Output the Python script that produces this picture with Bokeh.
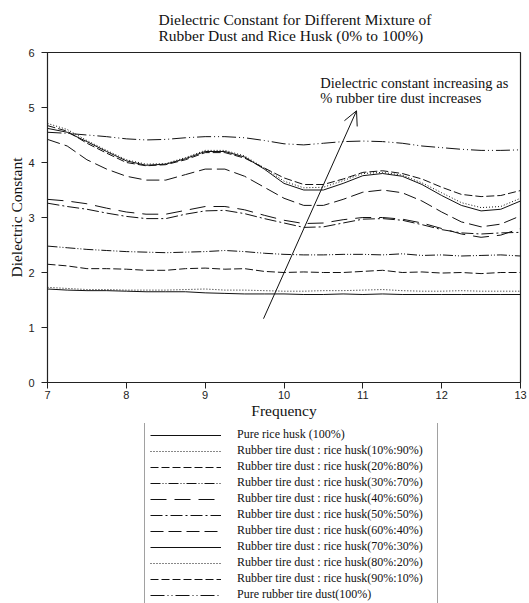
from bokeh.plotting import figure
from bokeh.layouts import column
from bokeh.models import Range1d, Legend, LegendItem, Label, Arrow, OpenHead
from bokeh.embed import file_html
from bokeh.resources import INLINE

freq = [7.0, 7.25, 7.5, 7.75, 8.0, 8.25, 8.5, 8.75, 9.0, 9.25, 9.5, 9.75, 10.0,
        10.25, 10.5, 10.75, 11.0, 11.25, 11.5, 11.75, 12.0, 12.25, 12.5, 12.75, 13.0]

rh_100 = [1.70, 1.68, 1.67, 1.67, 1.66, 1.65, 1.65, 1.65, 1.63, 1.62, 1.61, 1.61, 1.61,
          1.60, 1.60, 1.61, 1.60, 1.61, 1.60, 1.60, 1.60, 1.60, 1.60, 1.60, 1.60]
rt_10 = [1.73, 1.71, 1.69, 1.69, 1.68, 1.68, 1.68, 1.69, 1.70, 1.68, 1.68, 1.67, 1.66,
         1.66, 1.67, 1.67, 1.68, 1.69, 1.67, 1.66, 1.66, 1.67, 1.66, 1.66, 1.66]
rt_20 = [2.15, 2.12, 2.07, 2.07, 2.06, 2.04, 2.04, 2.07, 2.08, 2.06, 2.07, 2.02, 2.00,
         2.01, 2.00, 2.00, 2.02, 2.04, 2.00, 2.01, 1.99, 2.00, 1.98, 2.00, 2.00]
rt_30 = [2.48, 2.45, 2.42, 2.40, 2.38, 2.37, 2.36, 2.37, 2.38, 2.40, 2.38, 2.35, 2.33,
         2.32, 2.32, 2.33, 2.33, 2.32, 2.34, 2.31, 2.32, 2.30, 2.31, 2.32, 2.30]
rt_40 = [3.33, 3.30, 3.25, 3.17, 3.10, 3.06, 3.06, 3.13, 3.20, 3.20, 3.14, 3.04, 2.95,
         2.89, 2.90, 2.96, 3.00, 3.00, 2.97, 2.90, 2.80, 2.70, 2.64, 2.68, 2.80]
rt_50 = [3.26, 3.20, 3.15, 3.08, 3.02, 2.98, 2.98, 3.06, 3.12, 3.13, 3.07, 2.98, 2.90,
         2.82, 2.83, 2.90, 2.97, 2.98, 2.95, 2.87, 2.78, 2.72, 2.70, 2.72, 2.73]
rt_60 = [4.42, 4.30, 4.05, 3.88, 3.75, 3.68, 3.68, 3.78, 3.88, 3.88, 3.75, 3.55, 3.35,
         3.22, 3.22, 3.33, 3.46, 3.50, 3.45, 3.30, 3.10, 2.92, 2.83, 2.88, 3.03]
rt_70 = [4.62, 4.55, 4.38, 4.20, 4.03, 3.95, 3.97, 4.07, 4.20, 4.20, 4.10, 3.88, 3.62,
         3.50, 3.50, 3.62, 3.76, 3.80, 3.75, 3.60, 3.40, 3.22, 3.12, 3.15, 3.30]
rt_80 = [4.71, 4.60, 4.40, 4.22, 4.05, 3.97, 3.98, 4.09, 4.22, 4.22, 4.12, 3.90, 3.66,
         3.54, 3.55, 3.67, 3.80, 3.82, 3.77, 3.63, 3.45, 3.27, 3.18, 3.20, 3.35]
rt_90 = [4.67, 4.57, 4.35, 4.17, 4.00, 3.94, 3.96, 4.05, 4.18, 4.18, 4.08, 3.90, 3.72,
         3.60, 3.60, 3.70, 3.82, 3.85, 3.80, 3.70, 3.55, 3.42, 3.38, 3.40, 3.49]
rt_100 = [4.55, 4.53, 4.50, 4.47, 4.43, 4.41, 4.42, 4.45, 4.47, 4.47, 4.45, 4.40, 4.34,
          4.32, 4.35, 4.38, 4.39, 4.38, 4.35, 4.30, 4.27, 4.24, 4.22, 4.22, 4.23]

series_labels = [
    "Pure rice husk (100%)",
    "Rubber tire dust : rice husk(10%:90%)",
    "Rubber tire dust : rice husk(20%:80%)",
    "Rubber tire dust : rice husk(30%:70%)",
    "Rubber tire dust : rice husk(40%:60%)",
    "Rubber tire dust : rice husk(50%:50%)",
    "Rubber tire dust : rice husk(60%:40%)",
    "Rubber tire dust : rice husk(70%:30%)",
    "Rubber tire dust : rice husk(80%:20%)",
    "Rubber tire dust : rice husk(90%:10%)",
    "Pure rubber tire dust(100%)",
]
series_values = [rh_100, rt_10, rt_20, rt_30, rt_40, rt_50, rt_60, rt_70, rt_80, rt_90, rt_100]
dashes = ["solid", "1 2", "8 3", "10 2 1 2 1 2", "16 8", "12 3 2 3", "13 5",
          "solid", "1 2", "8 3", "14 3 1 3 1 3"]

title_text = "Dielectric Constant for Different Mixture of\nRubber Dust and Rice Husk (0% to 100%)"
note_line1 = "Dielectric constant increasing as"
note_line2 = "% rubber tire dust increases"

SERIF = "Liberation Serif"
SANS = "Liberation Sans"

# ---- main chart ----
p = figure(width=529, height=423, output_backend="svg", toolbar_location=None,
           x_range=Range1d(7, 13), y_range=Range1d(0, 6),
           min_border_left=47, min_border_right=9, min_border_top=52, min_border_bottom=41)
p.title.text = title_text
p.title.align = "left"
p.title.offset = 111
p.title.text_font = SERIF
p.title.text_font_size = "15.5px"
p.title.text_font_style = "normal"
p.title.text_color = "#111111"
p.title.text_line_height = 0.93
p.title.standoff = 17
p.grid.visible = False
p.outline_line_color = "#222222"
p.outline_line_width = 1.2
p.background_fill_color = "white"
p.border_fill_color = "white"

for ax in (p.xaxis[0], p.yaxis[0]):
    ax.axis_line_color = "#222222"
    ax.major_tick_line_color = "#222222"
    ax.minor_tick_line_color = None
    ax.major_tick_out = 6
    ax.major_tick_in = 0
    ax.major_label_text_font = SANS
    ax.major_label_text_font_size = "11px"
    ax.major_label_text_color = "#222222"
    ax.axis_label_text_font = SERIF
    ax.axis_label_text_font_size = "15.5px"
    ax.axis_label_text_font_style = "normal"
    ax.axis_label_text_color = "#111111"

p.xaxis.axis_label = "Frequency"
p.yaxis.axis_label = "Dielectric Constant"
p.xaxis.ticker = [7, 8, 9, 10, 11, 12, 13]
p.yaxis.ticker = [0, 1, 2, 3, 4, 5, 6]
p.xaxis.major_label_standoff = 2
p.xaxis.axis_label_standoff = 0
p.yaxis.major_label_standoff = 7
p.yaxis.axis_label_standoff = 0

for vals, dsh in zip(series_values, dashes):
    p.line(freq, vals, line_color="#111111", line_width=1, line_dash=dsh)

p.add_layout(Arrow(end=OpenHead(size=14, line_width=1, line_color="#111111"),
                   x_start=9.74, y_start=1.16, x_end=10.92, y_end=4.94,
                   line_width=1, line_color="#111111"))
p.add_layout(Label(x=10.46, y=5.44, text=note_line1, text_font=SERIF,
                   text_font_size="14.5px", text_baseline="middle", text_color="#111111"))
p.add_layout(Label(x=10.46, y=5.17, text=note_line2, text_font=SERIF,
                   text_font_size="14.5px", text_baseline="middle", text_color="#111111"))

# ---- legend panel: same series, drawn outside its visible range, used for the key ----
q = figure(width=529, height=180, output_backend="svg", toolbar_location=None,
           x_range=Range1d(0, 1), y_range=Range1d(0, 1),
           x_axis_location=None, y_axis_location=None,
           min_border_left=47, min_border_right=9, min_border_top=0, min_border_bottom=0)
q.title = None
q.grid.visible = False
q.outline_line_color = None
q.background_fill_color = "white"
q.border_fill_color = "white"

items = []
for lab, vals, dsh in zip(series_labels, series_values, dashes):
    r = q.line(freq, vals, line_color="#111111", line_width=1, line_dash=dsh)
    items.append(LegendItem(label=lab, renderers=[r]))

legend = Legend(items=items, location=(97, -5), orientation="vertical",
                border_line_color="#444444", border_line_width=1.5,
                background_fill_color="white", background_fill_alpha=1.0,
                label_text_font=SERIF, label_text_font_size="12px",
                label_text_color="#111111", label_text_line_height=1.0,
                glyph_width=71, glyph_height=12, label_height=12, label_width=195,
                spacing=1, padding=5, label_standoff=16, margin=0)
q.add_layout(legend)

open("out.html", "w").write(file_html(column(p, q, spacing=0), INLINE))
